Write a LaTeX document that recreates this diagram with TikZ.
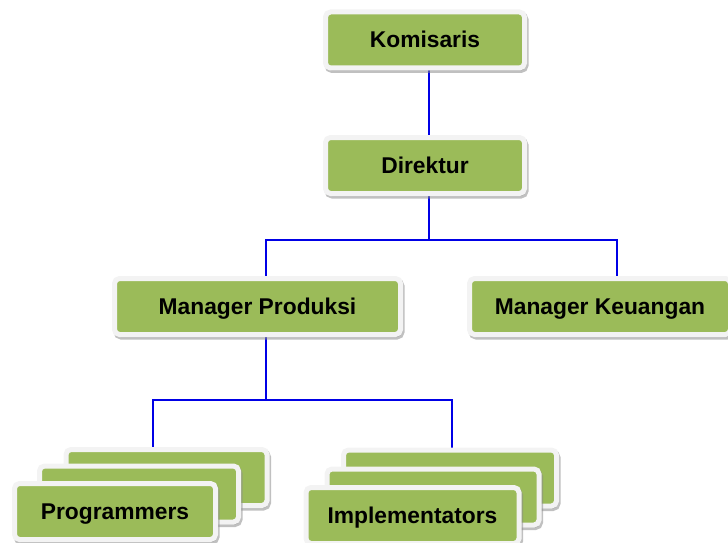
\documentclass[tikz,border=0pt]{standalone}
\usepackage{fontspec}
\setmainfont{Liberation Sans}
\usetikzlibrary{shadows,backgrounds}
\definecolor{boxgreen}{HTML}{9BBB59}
\definecolor{rimwhite}{HTML}{F3F3F3}
\definecolor{linkblue}{HTML}{0000E6}
\tikzset{
  gbox/.style={rectangle, rounded corners=5pt, fill=boxgreen, draw=rimwhite,
    line width=5pt, minimum height=56pt, inner sep=0pt, text=black,
    text height=18.5pt, text depth=2.5pt,
    font=\fontsize{22.8}{24}\selectfont\bfseries,
    drop shadow={shadow xshift=1.5pt, shadow yshift=-2.5pt, fill=black!45,
      draw=black!45, line width=5pt, opacity=0.55}},
  link/.style={draw=linkblue, line width=1.2pt}
}
\begin{document}
\begin{tikzpicture}[x=1pt, y=-1pt]
\useasboundingbox (0,0) rectangle (728,543);
\node[gbox, minimum width=199pt] (kom) at (425,40) {Komisaris};
\node[gbox, minimum width=199pt] (dir) at (425,165.5) {Direktur};
\node[gbox, minimum width=286pt] (mp) at (257.5,306.5) {Manager Produksi};
\node[gbox, minimum width=261pt] (mk) at (600,306.5) {Manager Keuangan};
% Programmers stack
\node[gbox, minimum width=201pt] (pr3) at (166.5,477.5) {};
\node[gbox, minimum width=199pt] (pr2) at (139,494) {};
\node[gbox, minimum width=201pt] (pr1) at (115,511.5) {Programmers};
% Implementators stack
\node[gbox, minimum width=213pt] (im3) at (450,478) {};
\node[gbox, minimum width=212pt] (im2) at (433,497) {};
\node[gbox, minimum width=213pt] (im1) at (412.5,515.5) {Implementators};
\coordinate (j1) at (429,240);
\coordinate (j2) at (266,400);
\begin{scope}[on background layer]
\draw[link] ([xshift=4pt]kom.south) -- ([xshift=4pt]dir.north);
\draw[link] ([xshift=4pt]dir.south) -- (j1);
\draw[link] ([xshift=8.5pt]mp.north) |- (j1) -| ([xshift=17pt]mk.north);
\draw[link] ([xshift=8.5pt]mp.south) -- (j2);
\draw[link] ([xshift=-13.5pt]pr3.north) |- (j2) -| ([xshift=2pt]im3.north);
\end{scope}
\end{tikzpicture}
\end{document}
